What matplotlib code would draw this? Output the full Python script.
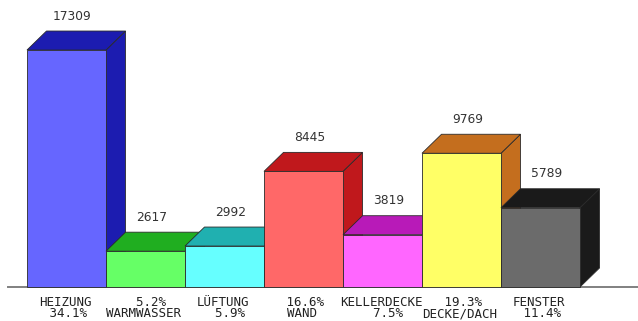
import matplotlib
matplotlib.use("Agg")
import matplotlib.pyplot as plt
from matplotlib.patches import Polygon

names = ["HEIZUNG", "WARMWASSER", "LÜFTUNG", "WAND", "KELLERDECKE", "DECKE/DACH", "FENSTER"]
values = [17309, 2617, 2992, 8445, 3819, 9769, 5789]
percents = [34.1, 5.2, 5.9, 16.6, 7.5, 19.3, 11.4]
front_colors = ["#6666ff", "#66ff66", "#66ffff", "#ff6868", "#ff66ff", "#ffff66", "#6b6b6b"]
dark_colors = ["#1c1cb0", "#20ae20", "#20b0b0", "#c0181c", "#b81ab8", "#c46e1e", "#1a1a1a"]

# pixel -> data scale (x: 79 px per bar, y: 73.04 units per px)
xpx = 79.0
ypx = 73.04
dx = 19.5 / xpx
dy = 19 * ypx

fig = plt.figure(figsize=[6.38, 3.21], dpi=100)
ax = fig.add_axes([0, 0, 1, 1])
ax.set_xlim((0 - 27) / xpx - 0.5, (638 - 27) / xpx - 0.5)
ax.set_ylim(-34 * ypx, (321 - 34) * ypx)
ax.axis("off")

# baseline
ax.plot([(8 - 27) / xpx - 0.5, (638 - 27) / xpx - 0.5], [0, 0], color="#808080", lw=1.4, zorder=1)

ec = "#2a2a2a"
for i, v in enumerate(values):
    l, r = i - 0.5, i + 0.5
    # side face
    side = Polygon([(r, 0), (r + dx, dy), (r + dx, v + dy), (r, v)], closed=True,
                   facecolor=dark_colors[i], edgecolor=ec, lw=0.6, zorder=2 + i)
    ax.add_patch(side)
    # top face
    top = Polygon([(l, v), (l + dx, v + dy), (r + dx, v + dy), (r, v)], closed=True,
                  facecolor=dark_colors[i], edgecolor=ec, lw=0.6, zorder=2 + i)
    ax.add_patch(top)
    # front face
    ax.bar(i, v, width=1.0, color=front_colors[i], edgecolor=ec, lw=0.6, zorder=2 + i)
    ax.text(i + 0.075, v + dy + 15 * ypx, str(v), ha="center", va="center",
            fontsize=8.8, color="#333333", family="DejaVu Sans", zorder=20)

    pct = "%5.1f%%" % percents[i]
    if i % 2 == 0:
        lbl = names[i] + "\n" + pct
    else:
        lbl = pct + "\n" + names[i]
    ax.text(i - 0.02, -21 * ypx, lbl, ha="center", va="center", multialignment="center",
            fontsize=9, linespacing=0.85, family="DejaVu Sans Mono", color="#222222")

plt.savefig("out.png", dpi=100)
